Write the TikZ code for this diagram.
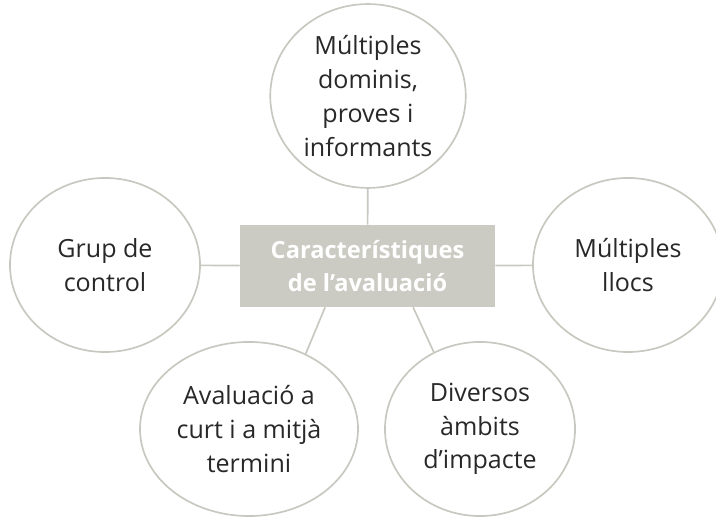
\documentclass[tikz,border=0pt]{standalone}
\usepackage{fontspec}
\setmainfont{Open Sans}
\usetikzlibrary{positioning, shapes.geometric}
\definecolor{grisvora}{RGB}{200,200,193}
\definecolor{grisfons}{RGB}{203,203,196}
\definecolor{gristext}{RGB}{40,40,40}
\tikzset{
  rect1/.style = {
    shape = rectangle,
    fill = grisfons,
    text = white,
    font = \fontsize{16.8}{23.5}\selectfont\bfseries,
    align = center,
    minimum width = 6.375cm,
    minimum height = 2.05cm,
  }
}
\tikzset{
  circ1/.style = {
    shape = ellipse,
    draw = grisvora,
    line width = 1.2pt,
    fill = white,
    text = gristext,
    font = \fontsize{17.8}{24}\selectfont,
    align = center,
    minimum width = 4.75cm,
    minimum height = 4.35cm,
  }
}
\tikzset{
  line1/.style = {
    draw = grisvora, line width = 1.2pt,
  }
}

\begin{document}
\begin{tikzpicture}[x = 0.025cm, y = -0.025cm]
        \useasboundingbox (0,0) rectangle (716,517);
        \node[rect1](0) at (367.5,266){Característiques\\de l’avaluació};
        \node[circ1](1) at (368,96){Múltiples\\dominis,\\proves i\\informants};
        \node[circ1](2) at (105,265){Grup de\\control};
        \node[circ1](3) at (628,265){Múltiples\\llocs};
        \node[circ1](4) at (249,429){Avaluació a\\curt i a mitjà\\termini};
        \node[circ1](5) at (480,429){Diversos\\àmbits\\d’impacte};
        \draw[line1](1) -- (0);
        \draw[line1](2) -- (0);
        \draw[line1](3) -- (0);
        \draw[line1]([xshift = -1.06cm]0.south) -- (4.53);
        \draw[line1]([xshift = 1.14cm]0.south) -- (5.121);
    \end{tikzpicture}
\end{document}
